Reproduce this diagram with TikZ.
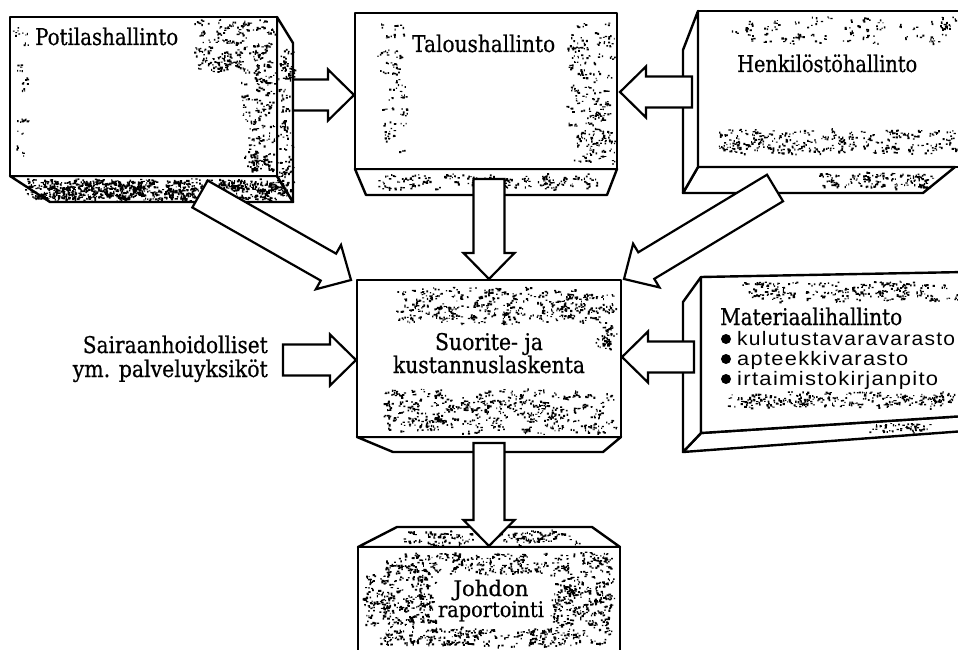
\documentclass[tikz,border=0pt]{standalone}
\usepackage{fontspec}
\usepackage{graphicx}
\setmainfont{DejaVu Serif}[FakeStretch=0.87, FakeBold=0.6]
\newfontfamily\listfont{Liberation Sans}[LetterSpace=6]
\usetikzlibrary{calc}
\setlength{\lineskiplimit}{-50pt}

\tikzset{
  face/.style={draw=black, fill=white, line width=2.4pt, line join=round},
  barrow/.style={draw=black, fill=white, line width=2.2pt, line join=miter},
  title/.style={inner sep=0pt, font=\fontsize{23}{23}\selectfont},
  item/.style={inner sep=0pt, text height=13pt, text depth=4pt},
  bullet/.style={fill=black},
  grainc/.style={fill=black},
}

% set a line to a given width, keeping its height
\newsavebox\fitbox
\newcommand\fitto[2]{%
  \sbox\fitbox{#2}%
  \pgfmathsetmacro\fitf{#1/\wd\fitbox}%
  \scalebox{\fitf}[1]{\usebox\fitbox}}
\newcommand\itemline[2]{\fitto{#1}{\listfont\fontsize{19.5}{20}\selectfont #2}}

% blotchy print grain inside a rectangle: x, y, width, height, number of clumps
% (one path per patch, made of tiny rectangles)
\newcommand\grain[5]{%
  \fill[grainc] \foreach \k in {1,...,#5}{
    \pgfextra{\pgfmathsetmacro\gx{#1+rnd*#3}\pgfmathsetmacro\gy{#2+rnd*#4}}
    \foreach \j in {1,2,3}{
      ({\gx+3.5*rand},{\gy+2*rand}) rectangle ++({0.9+1.5*rnd},{0.9+1.3*rnd})
    }
  };}

% hollow block arrow from one named point to another
\newcommand\blockarrow[2]{%
  \draw[barrow] let \p1=(#1), \p2=(#2),
    \n1={atan2(\y2-\y1,\x2-\x1)}, \n2={veclen(\x2-\x1,\y2-\y1)-26pt} in
    ($(\p1)+(\n1+90:15.5pt)$)
    -- ($(\p1)+(\n1:\n2)+(\n1+90:15.5pt)$)
    -- ($(\p1)+(\n1:\n2)+(\n1+90:25.5pt)$)
    -- (\p2)
    -- ($(\p1)+(\n1:\n2)+(\n1-90:25.5pt)$)
    -- ($(\p1)+(\n1:\n2)+(\n1-90:15.5pt)$)
    -- ($(\p1)+(\n1-90:15.5pt)$) -- cycle;}

\begin{document}
\begin{tikzpicture}[x=1pt, y=-1pt]
\pgfmathsetseed{7}
\useasboundingbox (0,0) rectangle (958,650);
\clip (0,0) rectangle (958,650);

% ---------- Potilashallinto ----------
\draw[face] (10,176) -- (277,176) -- (293,202) -- (50,202) -- cycle;
\draw[face] (277,17) -- (293,43) -- (293,202) -- (277,176) -- cycle;
\draw[face] (10,17) rectangle (277,176);
\grain{195}{20}{78}{50}{110}
\grain{243}{70}{32}{75}{55}
\grain{245}{145}{28}{25}{30}
\grain{16}{22}{10}{150}{15}
\grain{24}{180}{262}{19}{480}
\grain{280}{50}{11}{140}{50}

% ---------- Taloushallinto ----------
\draw[face] (355,169) -- (617,169) -- (607,195) -- (366,195) -- cycle;
\draw[face] (355,13) rectangle (617,169);
\grain{378}{25}{28}{135}{40}
\grain{568}{22}{45}{140}{110}
\grain{380}{175}{220}{14}{80}

% ---------- Henkilöstöhallinto ----------
\draw[face] (698,11) rectangle (975,167);
\draw[face] (698,167) -- (955,167) -- (923,193) -- (683,193) -- cycle;
\draw[face] (698,11) -- (683,50) -- (683,193) -- (698,167) -- cycle;
\grain{735}{18}{220}{24}{60}
\grain{720}{130}{236}{22}{140}
\grain{820}{173}{110}{14}{60}

% ---------- Suorite- ja kustannuslaskenta ----------
\draw[face] (357,437) -- (621,437) -- (603,452) -- (393,452) -- cycle;
\draw[face] (357,280) rectangle (621,437);
\grain{398}{288}{215}{34}{200}
\grain{385}{390}{230}{42}{240}
\grain{598}{320}{18}{30}{20}

% ---------- Johdon raportointi ----------
\draw[face] (358,547) -- (397,527) -- (592,527) -- (620,547) -- cycle;
\draw[face] (358,547) rectangle (620,665);
\grain{405}{531}{180}{13}{70}
\grain{385}{553}{225}{20}{150}
\grain{366}{575}{68}{50}{130}
\grain{552}{575}{63}{50}{120}
\grain{380}{628}{230}{18}{140}

% ---------- Materiaalihallinto ----------
\draw[face] (701,433) -- (965,416) -- (965,431) -- (683,452) -- cycle;
\draw[face] (701,277) -- (683,302) -- (683,452) -- (701,433) -- cycle;
\draw[face] (701,277) -- (965,272) -- (965,416) -- (701,433) -- cycle;
\grain{745}{282}{210}{18}{110}
\grain{728}{392}{229}{14}{110}
\grain{872}{424}{55}{7}{20}

% ---------- texts (multi-line nodes are placed by their last baseline) ----------
\node[title, anchor=base west] (potilas) at (35,45) {\fitto{143pt}{Potilashallinto}};
\node[title, anchor=base west] (talous) at (412,52) {\fitto{143pt}{Taloushallinto}};
\node[title, anchor=base west] (henkilo) at (737,72) {\fitto{180pt}{Henkilöstöhallinto}};
\node[title, anchor=base, align=center] (suorite) at (489,373)
  {\fitto{108pt}{Suorite- ja}\\\fitto{192pt}{kustannuslaskenta}};
\node[title, anchor=base, align=center, font=\fontsize{21.5}{21}\selectfont]
  (johdon) at (491,617) {\fitto{75pt}{Johdon}\\\fitto{106pt}{raportointi}};
\node[title, anchor=base east, align=right, font=\fontsize{23}{24}\selectfont]
  (sairaan) at (268,377)
  {\fitto{185pt}{Sairaanhoidolliset}\\\fitto{195pt}{ym. palveluyksiköt}};
\node[title, anchor=base west] (materiaali) at (720,325) {\fitto{182pt}{Materiaalihallinto}};
\node[item, anchor=base west] (m1) at (737,345) {\itemline{218pt}{kulutustavaravarasto}};
\node[item, anchor=base west] (m2) at (737,365) {\itemline{171pt}{apteekkivarasto}};
\node[item, anchor=base west] (m3) at (737,385) {\itemline{201pt}{irtaimistokirjanpito}};
\fill[bullet] (726,339) circle[radius=5pt];
\fill[bullet] (726,359) circle[radius=5pt];
\fill[bullet] (726,379) circle[radius=5pt];

% ---------- arrow end points ----------
\coordinate (a1s) at (293,95);  \coordinate (a1e) at (354,95);
\coordinate (a2s) at (692,92);  \coordinate (a2e) at (620,92);
\coordinate (a3s) at (489,179); \coordinate (a3e) at (489,279);
\coordinate (a4s) at (489,443); \coordinate (a4e) at (489,546);
\coordinate (a5s) at (283,360); \coordinate (a5e) at (356,360);
\coordinate (a6s) at (694,357); \coordinate (a6e) at (622,357);
\coordinate (a7s) at (200,194); \coordinate (a7e) at (351,280);
\coordinate (a8s) at (775,188); \coordinate (a8e) at (624,279);

\blockarrow{a1s}{a1e}
\blockarrow{a2s}{a2e}
\blockarrow{a3s}{a3e}
\blockarrow{a4s}{a4e}
\blockarrow{a5s}{a5e}
\blockarrow{a6s}{a6e}
\blockarrow{a7s}{a7e}
\blockarrow{a8s}{a8e}
\end{tikzpicture}
\end{document}
